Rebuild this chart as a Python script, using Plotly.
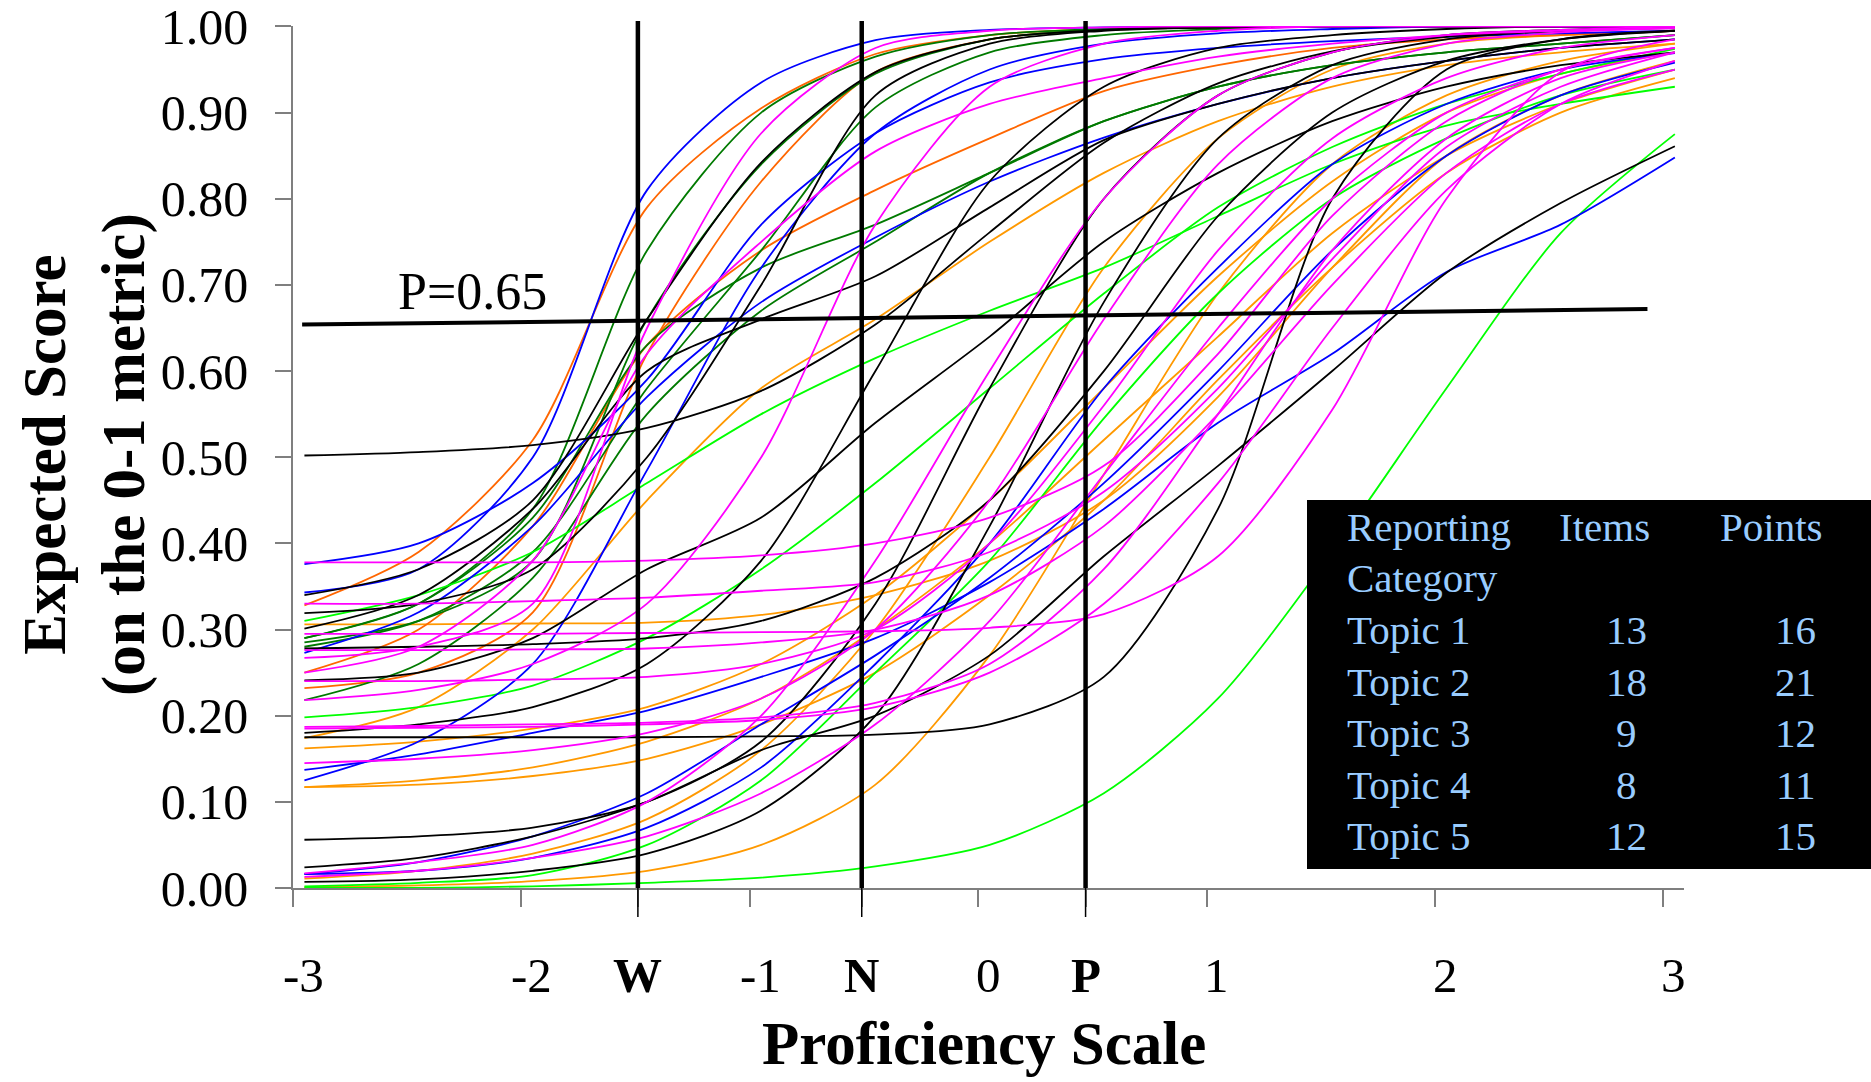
import plotly.graph_objects as go

# Ability grid at which each expected-score curve is sampled
THETA = [-2.95, -2.45, -1.95, -1.45, -0.95, -0.45, 0.05, 0.55, 1.05, 1.55, 2.05, 2.55, 3.05]

# Expected score (0-1 metric) per item, grouped by line colour
blue_items = [
    [0.343, 0.37, 0.50, 0.81, 0.935, 0.984, 0.996, 0.999, 1, 1, 1, 1, 1],
    [0.376, 0.40, 0.47, 0.59, 0.77, 0.876, 0.935, 0.962, 0.975, 0.983, 0.988, 0.992, 0.995],
    [0.125, 0.17, 0.26, 0.485, 0.72, 0.876, 0.95, 0.98, 0.992, 0.997, 1, 1, 1],
    [0.273, 0.32, 0.42, 0.57, 0.68, 0.755, 0.82, 0.871, 0.91, 0.94, 0.96, 0.975, 0.985],
    [0.137, 0.155, 0.18, 0.206, 0.245, 0.29, 0.355, 0.44, 0.54, 0.62, 0.715, 0.77, 0.848],
    [0.016, 0.02, 0.035, 0.07, 0.14, 0.26, 0.40, 0.58, 0.72, 0.84, 0.91, 0.95, 0.969],
    [0.016, 0.03, 0.06, 0.11, 0.19, 0.27, 0.36, 0.47, 0.60, 0.74, 0.85, 0.92, 0.958],
]
darkgreen_items = [
    [0.29, 0.33, 0.44, 0.74, 0.90, 0.965, 0.99, 0.997, 1, 1, 1, 1, 1],
    [0.285, 0.31, 0.38, 0.66, 0.84, 0.945, 0.985, 0.996, 0.999, 1, 1, 1, 1],
    [0.28, 0.31, 0.39, 0.58, 0.74, 0.906, 0.97, 0.99, 0.997, 1, 1, 1, 1],
    [0.218, 0.26, 0.36, 0.55, 0.67, 0.75, 0.83, 0.89, 0.93, 0.955, 0.97, 0.98, 0.99],
    [0.29, 0.33, 0.43, 0.63, 0.72, 0.77, 0.83, 0.89, 0.93, 0.955, 0.97, 0.98, 0.99],
]
redorange_items = [
    [0.328, 0.39, 0.52, 0.79, 0.905, 0.968, 0.99, 0.997, 0.999, 1, 1, 1, 1],
    [0.232, 0.25, 0.32, 0.62, 0.82, 0.947, 0.985, 0.996, 0.999, 1, 1, 1, 1],
    [0.25, 0.30, 0.42, 0.63, 0.74, 0.81, 0.87, 0.925, 0.955, 0.975, 0.985, 0.99, 0.995],
]
orange_items = [
    [0.306, 0.306, 0.307, 0.308, 0.317, 0.34, 0.38, 0.45, 0.57, 0.72, 0.85, 0.92, 0.96],
    [0.174, 0.21, 0.30, 0.45, 0.58, 0.66, 0.75, 0.83, 0.89, 0.93, 0.955, 0.97, 0.98],
    [0.117, 0.12, 0.13, 0.15, 0.19, 0.25, 0.34, 0.45, 0.59, 0.72, 0.83, 0.90, 0.94],
    [0.117, 0.125, 0.14, 0.17, 0.22, 0.30, 0.40, 0.52, 0.64, 0.76, 0.85, 0.91, 0.95],
    [0.011, 0.02, 0.04, 0.08, 0.16, 0.30, 0.50, 0.72, 0.87, 0.95, 0.98, 0.99, 0.995],
    [0.001, 0.003, 0.008, 0.02, 0.05, 0.12, 0.27, 0.48, 0.69, 0.84, 0.92, 0.96, 0.98],
    [0.162, 0.17, 0.185, 0.21, 0.26, 0.34, 0.45, 0.58, 0.71, 0.82, 0.90, 0.945, 0.97],
]
magenta_items = [
    [0.378, 0.378, 0.378, 0.38, 0.386, 0.40, 0.43, 0.49, 0.62, 0.78, 0.89, 0.95, 0.975],
    [0.33, 0.33, 0.333, 0.337, 0.345, 0.355, 0.39, 0.46, 0.58, 0.73, 0.86, 0.93, 0.97],
    [0.295, 0.295, 0.295, 0.296, 0.297, 0.298, 0.302, 0.318, 0.385, 0.555, 0.80, 0.947, 0.985],
    [0.276, 0.276, 0.277, 0.278, 0.285, 0.30, 0.34, 0.42, 0.55, 0.70, 0.83, 0.91, 0.95],
    [0.267, 0.28, 0.33, 0.65, 0.876, 0.975, 0.995, 0.999, 1, 1, 1, 1, 1],
    [0.25, 0.28, 0.38, 0.62, 0.75, 0.855, 0.91, 0.94, 0.965, 0.98, 0.99, 0.995, 0.998],
    [0.218, 0.23, 0.26, 0.33, 0.50, 0.77, 0.93, 0.98, 0.995, 1, 1, 1, 1],
    [0.187, 0.188, 0.19, 0.192, 0.198, 0.215, 0.26, 0.37, 0.55, 0.74, 0.87, 0.94, 0.97],
    [0.185, 0.186, 0.187, 0.19, 0.195, 0.21, 0.25, 0.33, 0.47, 0.65, 0.81, 0.91, 0.96],
    [0.145, 0.15, 0.16, 0.18, 0.22, 0.30, 0.45, 0.66, 0.84, 0.94, 0.98, 0.993, 0.998],
    [0.017, 0.03, 0.05, 0.10, 0.20, 0.38, 0.60, 0.80, 0.92, 0.97, 0.99, 0.996, 1],
    [0.013, 0.02, 0.035, 0.06, 0.11, 0.19, 0.31, 0.48, 0.65, 0.80, 0.90, 0.95, 0.975],
    [0.24, 0.24, 0.242, 0.245, 0.26, 0.30, 0.40, 0.56, 0.74, 0.87, 0.94, 0.975, 0.99],
]
black_items = [
    [0.502, 0.506, 0.514, 0.534, 0.577, 0.654, 0.761, 0.865, 0.934, 0.971, 0.988, 0.995, 0.998],
    [0.34, 0.37, 0.45, 0.66, 0.842, 0.947, 0.985, 0.996, 0.999, 1, 1, 1, 1],
    [0.319, 0.33, 0.37, 0.50, 0.70, 0.92, 0.98, 0.995, 0.999, 1, 1, 1, 1],
    [0.301, 0.34, 0.44, 0.60, 0.66, 0.71, 0.79, 0.868, 0.91, 0.94, 0.96, 0.975, 0.985],
    [0.175, 0.175, 0.175, 0.175, 0.176, 0.178, 0.19, 0.245, 0.44, 0.80, 0.95, 0.985, 0.995],
    [0.278, 0.28, 0.283, 0.29, 0.31, 0.36, 0.45, 0.60, 0.78, 0.90, 0.96, 0.985, 0.995],
    [0.18, 0.19, 0.21, 0.26, 0.38, 0.60, 0.82, 0.93, 0.975, 0.99, 0.997, 1, 1],
    [0.241, 0.25, 0.29, 0.37, 0.43, 0.54, 0.64, 0.75, 0.83, 0.89, 0.93, 0.955, 0.97],
    [0.056, 0.06, 0.07, 0.10, 0.17, 0.33, 0.58, 0.80, 0.92, 0.97, 0.99, 0.996, 0.999],
    [0.024, 0.035, 0.06, 0.10, 0.16, 0.20, 0.27, 0.385, 0.49, 0.60, 0.714, 0.795, 0.861],
    [0.007, 0.01, 0.02, 0.04, 0.09, 0.20, 0.42, 0.68, 0.87, 0.955, 0.985, 0.995, 1],
]
green_items = [
    [0.0, 0.0, 0.002, 0.006, 0.012, 0.025, 0.05, 0.11, 0.22, 0.39, 0.58, 0.76, 0.875],
    [0.31, 0.34, 0.39, 0.47, 0.55, 0.615, 0.67, 0.72, 0.78, 0.84, 0.885, 0.91, 0.93],
    [0.198, 0.21, 0.235, 0.29, 0.37, 0.47, 0.58, 0.69, 0.79, 0.86, 0.91, 0.945, 0.974],
    [0.002, 0.006, 0.015, 0.05, 0.125, 0.25, 0.38, 0.545, 0.69, 0.80, 0.87, 0.92, 0.95],
]

# Cut scores on the proficiency scale and the response-probability criterion line
CUT_NAMES = ["W", "N", "P"]
CUT_THETA = [-1.49, -0.51, 0.47]
RP_X = [-2.96, 2.93]
RP_Y = [0.654, 0.672]
RP_LABEL = "P=0.65"

X_TICKS = [-3, -2, -1, 0, 1, 2, 3]
X_TICK_TEXT = ["-3", "-2", "-1", "0", "1", "2", "3"]
Y_TICKS = [0.0, 0.1, 0.2, 0.3, 0.4, 0.5, 0.6, 0.7, 0.8, 0.9, 1.0]

# Test blueprint summary
CATEGORIES = ["Topic 1", "Topic 2", "Topic 3", "Topic 4", "Topic 5"]
ITEMS = [13, 18, 9, 8, 12]
POINTS = [16, 21, 12, 11, 15]

SERIF = "Liberation Serif, Times New Roman, serif"
AXIS_GREY = "#7f7f7f"
TABLE_TEXT = "#99CCFF"

groups = [
    (orange_items, "#FF9900"),
    (redorange_items, "#FF6600"),
    (darkgreen_items, "#007A00"),
    (green_items, "#00FF00"),
    (blue_items, "#0000FF"),
    (black_items, "#000000"),
    (magenta_items, "#FF00FF"),
]

fig = go.Figure()
for items, colour in groups:
    for ys in items:
        fig.add_trace(go.Scatter(
            x=THETA, y=ys, mode="lines",
            line=dict(color=colour, width=1.8, shape="spline", smoothing=0.8),
            hoverinfo="skip", showlegend=False,
        ))

# criterion line
fig.add_trace(go.Scatter(
    x=RP_X, y=RP_Y, mode="lines",
    line=dict(color="black", width=4), hoverinfo="skip", showlegend=False,
))

# plot-area geometry in page pixels
W, H = 1871, 1082
PL, PR, PT, PB = 293, 1684, 26, 888


def px_x(px):
    return (px - PL) / (PR - PL)


def px_y(py):
    return (PB - py) / (PB - PT)


shapes = []
for cut in CUT_THETA:
    shapes.append(dict(type="line", xref="x", yref="paper", x0=cut, x1=cut,
                       y0=0, y1=px_y(21), line=dict(color="black", width=4.5)))
    shapes.append(dict(type="line", xref="x", yref="paper", x0=cut, x1=cut,
                       y0=px_y(917), y1=0, line=dict(color="black", width=1.5)))

# blueprint table background
shapes.append(dict(type="rect", xref="paper", yref="paper",
                   x0=px_x(1307), x1=px_x(1871), y0=px_y(869), y1=px_y(500),
                   fillcolor="black", line=dict(width=0), layer="above"))

annotations = []
# x-axis labels: numeric scale points sit just right of their tick marks
label_font = dict(family=SERIF, size=49, color="black")
for val, txt in zip(X_TICKS, X_TICK_TEXT):
    annotations.append(dict(text=txt, x=val + 0.045, y=px_y(975), xref="x", yref="paper",
                            showarrow=False, font=label_font,
                            xanchor="center", yanchor="middle"))
for cut, name in zip(CUT_THETA, CUT_NAMES):
    annotations.append(dict(text="<b>%s</b>" % name, x=cut, y=px_y(975), xref="x",
                            yref="paper", showarrow=False, font=label_font,
                            xanchor="center", yanchor="middle"))

annotations.append(dict(text=RP_LABEL, x=-2.215, y=px_y(291), xref="x", yref="paper",
                        showarrow=False, font=dict(family=SERIF, size=52, color="black"),
                        xanchor="center", yanchor="middle"))
annotations.append(dict(text="<b>Proficiency Scale</b>", x=px_x(984), y=px_y(1043),
                        xref="paper", yref="paper", showarrow=False,
                        font=dict(family=SERIF, size=61, color="black"),
                        xanchor="center", yanchor="middle"))
annotations.append(dict(text="<b>Expected Score</b><br><b>(on the 0-1 metric)</b>",
                        x=px_x(84), y=px_y(455), xref="paper", yref="paper",
                        showarrow=False, textangle=-90,
                        font=dict(family=SERIF, size=61, color="black"),
                        xanchor="center", yanchor="middle"))

tfont = dict(family=SERIF, size=41, color=TABLE_TEXT)
for text, px, py in [("Reporting", 1345, 527), ("Category", 1345, 578),
                     ("Items", 1557, 527), ("Points", 1718, 527)]:
    annotations.append(dict(text=text, x=px_x(px), y=px_y(py), xref="paper", yref="paper",
                            showarrow=False, font=tfont, xanchor="left", yanchor="middle"))
for i, (cat, n_items, n_points) in enumerate(zip(CATEGORIES, ITEMS, POINTS)):
    py = 630 + 51.5 * i
    annotations.append(dict(text=cat, x=px_x(1345), y=px_y(py), xref="paper", yref="paper",
                            showarrow=False, font=tfont, xanchor="left", yanchor="middle"))
    annotations.append(dict(text=str(n_items), x=px_x(1626), y=px_y(py), xref="paper",
                            yref="paper", showarrow=False, font=tfont,
                            xanchor="center", yanchor="middle"))
    annotations.append(dict(text=str(n_points), x=px_x(1795), y=px_y(py), xref="paper",
                            yref="paper", showarrow=False, font=tfont,
                            xanchor="center", yanchor="middle"))

fig.update_layout(
    width=W, height=H,
    margin=dict(l=PL, r=W - PR, t=PT, b=H - PB, pad=0, autoexpand=False),
    paper_bgcolor="white", plot_bgcolor="white",
    shapes=shapes, annotations=annotations,
    xaxis=dict(
        range=[-3, 3.09], showgrid=False, zeroline=False, automargin=False,
        showline=True, linecolor=AXIS_GREY, linewidth=1.5,
        tickmode="array", tickvals=X_TICKS + CUT_THETA, showticklabels=False,
        ticks="outside", ticklen=17, tickcolor=AXIS_GREY, tickwidth=1.5,
    ),
    yaxis=dict(
        range=[0, 1.0005], showgrid=False, zeroline=False, automargin=False,
        showline=True, linecolor=AXIS_GREY, linewidth=1.5,
        tickmode="array", tickvals=Y_TICKS, tickformat=".2f",
        ticks="outside", ticklen=16, tickcolor=AXIS_GREY, tickwidth=1.5,
        ticklabelstandoff=17, ticklabeloverflow="allow",
        tickfont=dict(family=SERIF, size=50, color="black"),
    ),
)

fig.write_html("out.html")
